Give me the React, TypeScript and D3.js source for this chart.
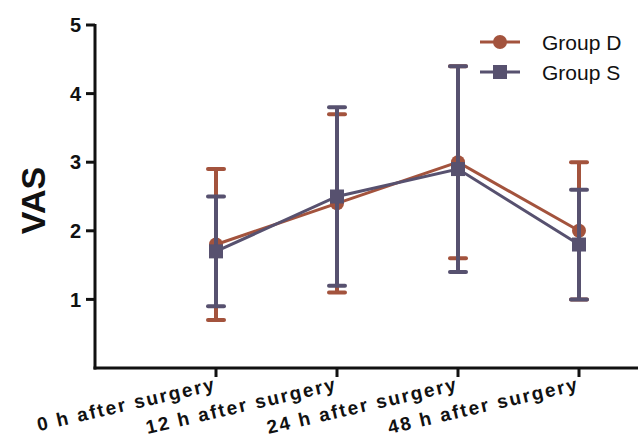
import React, { useEffect, useRef } from "react";
import * as d3 from "d3";

const categories = ["0 h after surgery", "12 h after surgery", "24 h after surgery", "48 h after surgery"];
const groupDMean = [1.8, 2.4, 3.0, 2.0];
const groupDErr = [1.1, 1.3, 1.4, 1.0];
const groupSMean = [1.7, 2.5, 2.9, 1.8];
const groupSErr = [0.8, 1.3, 1.5, 0.8];
const yTicks = [1, 2, 3, 4, 5];

const series = [
  { name: "Group D", mean: groupDMean, err: groupDErr, color: "#A3533D", shape: "circle" },
  { name: "Group S", mean: groupSMean, err: groupSErr, color: "#57516F", shape: "square" },
];

const App = () => {
  const svgRef = useRef<SVGSVGElement>(null);

  useEffect(() => {
    const svg = d3.select(svgRef.current);
    svg.selectAll("*").remove();

    const font = "'Liberation Sans', Arial, sans-serif";
    const left = 95;
    const bottom = 368;
    const top = 25;

    // x: index 0..5, axis runs past the right edge like the original crop
    const x = d3.scaleLinear().domain([0, 5]).range([left, left + 5 * 121]);
    const y = d3.scaleLinear().domain([0, 5]).range([bottom, top]);

    // Axes
    svg.append("line")
      .attr("x1", left).attr("x2", left).attr("y1", y(5) - 1).attr("y2", bottom + 1.5)
      .attr("stroke", "#111").attr("stroke-width", 3);
    svg.append("line")
      .attr("x1", left - 1.5).attr("x2", 700).attr("y1", bottom).attr("y2", bottom)
      .attr("stroke", "#111").attr("stroke-width", 3);

    yTicks.forEach((t) => {
      svg.append("line")
        .attr("x1", left - 9).attr("x2", left).attr("y1", y(t)).attr("y2", y(t))
        .attr("stroke", "#111").attr("stroke-width", 3);
      svg.append("text")
        .attr("x", left - 14).attr("y", y(t)).attr("dy", "0.36em")
        .attr("text-anchor", "end")
        .attr("font-family", font).attr("font-weight", "bold").attr("font-size", 20)
        .attr("fill", "#111")
        .text(t);
    });

    categories.forEach((c, i) => {
      const cx = x(i + 1);
      svg.append("line")
        .attr("x1", cx).attr("x2", cx).attr("y1", bottom).attr("y2", bottom + 9)
        .attr("stroke", "#111").attr("stroke-width", 3);
      svg.append("text")
        .attr("transform", `translate(${cx + 1},${bottom + 22}) rotate(-13)`)
        .attr("text-anchor", "end")
        .attr("letter-spacing", 2)
        .attr("font-family", font).attr("font-weight", "bold").attr("font-size", 19)
        .attr("fill", "#111")
        .text(c);
    });

    svg.append("text")
      .attr("transform", `translate(45,${(y(0) + y(5)) / 2 + 4}) rotate(-90)`)
      .attr("text-anchor", "middle")
      .attr("font-family", font).attr("font-weight", "bold").attr("font-size", 34)
      .attr("fill", "#111")
      .text("VAS");

    const line = d3.line<number>().x((_, i) => x(i + 1)).y((d) => y(d));

    series.forEach((s) => {
      const g = svg.append("g");
      // error bars
      s.mean.forEach((m, i) => {
        const cx = x(i + 1);
        const lo = y(m - s.err[i]);
        const hi = y(m + s.err[i]);
        g.append("line")
          .attr("x1", cx).attr("x2", cx).attr("y1", hi).attr("y2", lo)
          .attr("stroke", s.color).attr("stroke-width", 4);
        [lo, hi].forEach((yy) => {
          g.append("line")
            .attr("x1", cx - 8).attr("x2", cx + 8).attr("y1", yy).attr("y2", yy)
            .attr("stroke", s.color).attr("stroke-width", 4).attr("stroke-linecap", "round");
        });
      });
      g.append("path")
        .attr("d", line(s.mean))
        .attr("fill", "none").attr("stroke", s.color).attr("stroke-width", 3);
      s.mean.forEach((m, i) => {
        if (s.shape === "circle") {
          g.append("circle").attr("cx", x(i + 1)).attr("cy", y(m)).attr("r", 7).attr("fill", s.color);
        } else {
          g.append("rect").attr("x", x(i + 1) - 7).attr("y", y(m) - 7)
            .attr("width", 14).attr("height", 14).attr("fill", s.color);
        }
      });
    });

    // legend
    series.forEach((s, i) => {
      const ly = 42 + i * 30;
      svg.append("line")
        .attr("x1", 480).attr("x2", 520).attr("y1", ly).attr("y2", ly)
        .attr("stroke", s.color).attr("stroke-width", 3);
      if (s.shape === "circle") {
        svg.append("circle").attr("cx", 500).attr("cy", ly).attr("r", 7).attr("fill", s.color);
      } else {
        svg.append("rect").attr("x", 493).attr("y", ly - 7).attr("width", 14).attr("height", 14).attr("fill", s.color);
      }
      svg.append("text")
        .attr("x", 542).attr("y", ly).attr("dy", "0.36em")
        .attr("font-family", font).attr("font-size", 21)
        .attr("fill", "#111")
        .text(s.name);
    });
  }, []);

  return (
    <svg
      ref={svgRef}
      width={638}
      height={441}
      style={{ position: "absolute", left: 0, top: 0, background: "#fff" }}
    />
  );
};

export default App;
